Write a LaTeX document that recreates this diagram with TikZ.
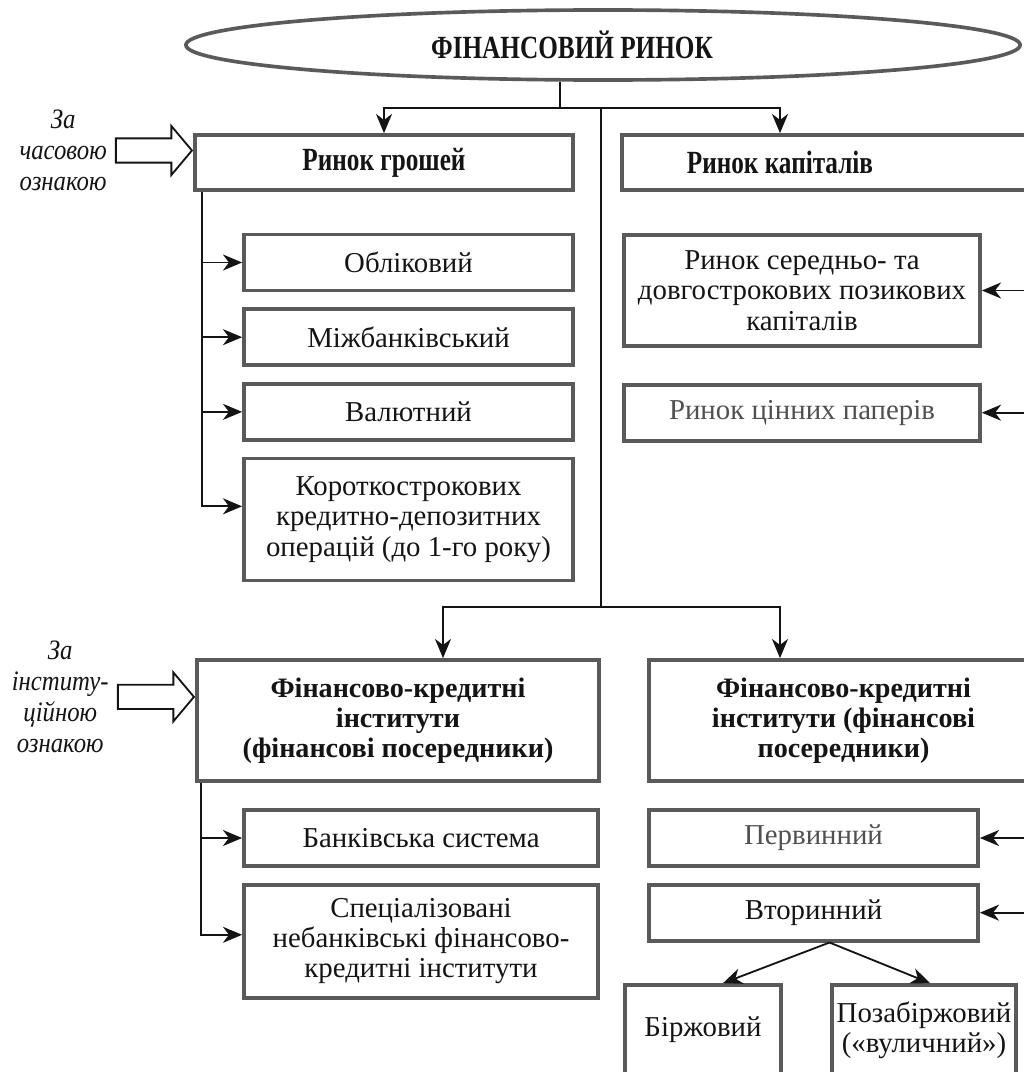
\documentclass[tikz,border=0pt]{standalone}
\usepackage{fontspec}
\setmainfont{Liberation Serif}
\newfontfamily\narrowfont[FakeStretch=0.78]{Liberation Serif}
\newfontfamily\slimfont[FakeStretch=0.88]{Liberation Serif}
\usetikzlibrary{arrows.meta,positioning,shapes.geometric,shapes.arrows}
\definecolor{frame}{HTML}{5A5A5A}
\definecolor{ink}{HTML}{141414}
\definecolor{faded}{HTML}{505050}
\tikzset{
  base/.style={rectangle,draw=frame,line width=2.6pt,fill=white,align=center,text=ink,inner sep=2pt,font=\fontsize{20.5}{21.5}\selectfont},
  headbox/.style={base,font=\narrowfont\bfseries\fontsize{23}{24}\selectfont},
  headtxt/.style={text=ink,inner sep=0pt,font=\narrowfont\bfseries\fontsize{23}{24}\selectfont},
  instbox/.style={base,font=\bfseries\fontsize{20}{21.5}\selectfont},
  itembox/.style={base},
  oval/.style={ellipse,draw=frame,line width=2.6pt,inner sep=0pt},
  link/.style={line width=1.3pt,ink},
  arrow/.style={link,-{Stealth[length=0.48cm,width=0.4cm,inset=0.15cm]}},
  bigarrow/.style={single arrow,draw=ink,line width=1.3pt,fill=white,minimum height=1.9cm,inner xsep=0pt,inner ysep=0.28cm,single arrow head extend=0.31cm,single arrow tip angle=100},
  sidenote/.style={align=center,text=ink,inner sep=0pt,font=\slimfont\itshape\fontsize{20}{22}\selectfont}
}
\begin{document}
\begin{tikzpicture}[x=0.025cm,y=-0.025cm,node distance=0.375cm]
  \useasboundingbox (0,0) rectangle (1024,1072);
  \clip (0,0) rectangle (1024,1072);

  \node[oval,minimum width=20.85cm,minimum height=1.75cm] (market) at (603,45) {};
  \node[headtxt] (title) at (572,45) {ФІНАНСОВИЙ РИНОК};

  % за часовою ознакою
  \node[headbox,minimum width=9.45cm,minimum height=1.375cm] (money) at (384,162.5) {Ринок грошей};
  \node[base,minimum width=10.25cm,minimum height=1.375cm] (capital) at (827,162.5) {};
  \node[headtxt] (capitaltxt) at (780,162.5) {Ринок капіталів};

  \node[itembox,minimum width=8.225cm,minimum height=1.4cm] (discount) at (408.5,262.5) {Обліковий};
  \node[itembox,below=of discount,minimum width=8.225cm,minimum height=1.4cm] (interbank) {Міжбанківський};
  \node[itembox,below=of interbank,minimum width=8.225cm,minimum height=1.4cm] (currency) {Валютний};
  \node[itembox,below=of currency,minimum width=8.225cm,minimum height=3.05cm] (shortterm) {Короткострокових\\кредитно-депозитних\\операцій (до 1-го року)};

  \node[itembox,minimum width=8.9cm,minimum height=2.775cm] (longterm) at (802,290.5) {Ринок середньо- та\\довгострокових позикових\\капіталів};
  \node[itembox,below=0.875cm of longterm,minimum width=8.9cm,minimum height=1.4cm,text=faded] (securities) {Ринок цінних паперів};

  % за інституційною ознакою
  \node[instbox,minimum width=10.05cm,minimum height=3.025cm] (lefthead) at (398,720.5) {Фінансово-кредитні\\інститути\\(фінансові посередники)};
  \node[instbox,minimum width=9.725cm,minimum height=3.025cm] (righthead) at (843.5,720.5) {Фінансово-кредитні\\інститути (фінансові\\посередники)};

  \node[itembox,minimum width=8.85cm,minimum height=1.4cm] (banks) at (421,838) {Банківська система};
  \node[itembox,below=of banks,minimum width=8.85cm,minimum height=2.825cm] (special) {Спеціалізовані\\небанківські фінансово-\\кредитні інститути};

  \node[itembox,minimum width=8.225cm,minimum height=1.4cm,text=faded] (primary) at (813.5,838) {Первинний};
  \node[itembox,below=of primary,minimum width=8.225cm,minimum height=1.4cm] (secondary) {Вторинний};
  \node[itembox,minimum width=3.9cm,minimum height=2.25cm] (exchange) at (703,1030) {Біржовий};
  \node[itembox,minimum width=4.6cm,minimum height=2.25cm] (otc) at (924,1030) {Позабіржовий\\(«вуличний»)};

  \node[bigarrow,anchor=tip] (timearrow) at ([yshift=0.3cm]money.west) {};
  \node[sidenote,left=0.2cm of timearrow] (timelbl) {За\\часовою\\ознакою};
  \node[bigarrow,anchor=tip] (instarrow) at ([yshift=0.59cm]lefthead.west) {};
  \node[sidenote,left=0.2cm of instarrow] (instlbl) {За\\інститу-\\ційною\\ознакою};

  \coordinate (split) at (560,108);
  \coordinate (fork) at (601,607);
  \coordinate (rim) at (1045,0);
  \draw[link] (market.south -| split) -- (split);
  \draw[arrow] (split) -| (money.north);
  \draw[arrow] (split) -| (capitaltxt |- capital.north);
  \draw[link] (split -| fork) -- (fork);
  \draw[arrow] (fork) -| ([xshift=1.125cm]lefthead.north);
  \draw[arrow] (fork) -| ([xshift=-1.5875cm]righthead.north);

  \coordinate (railA) at ([xshift=0.225cm]money.south west);
  \draw[arrow] (railA) |- ([yshift=0.33cm]shortterm.west);
  \foreach \n in {discount,interbank,currency}
    \draw[arrow] (railA |- \n.west) -- (\n.west);
  \coordinate (railB) at ([xshift=0.15cm]lefthead.south west);
  \draw[arrow] (railB) |- ([yshift=0.16cm]special.west);
  \draw[arrow] (railB |- banks.west) -- (banks.west);

  \foreach \n in {longterm,securities,primary,secondary}
    \draw[arrow] (rim |- \n.east) -- (\n.east);

  \coordinate (branch) at ([xshift=0.4cm]secondary.south);
  \draw[arrow] (branch) -- ([xshift=0.5cm]exchange.north);
  \draw[arrow] (branch) -- ([xshift=0.15cm]otc.north);
\end{tikzpicture}
\end{document}
